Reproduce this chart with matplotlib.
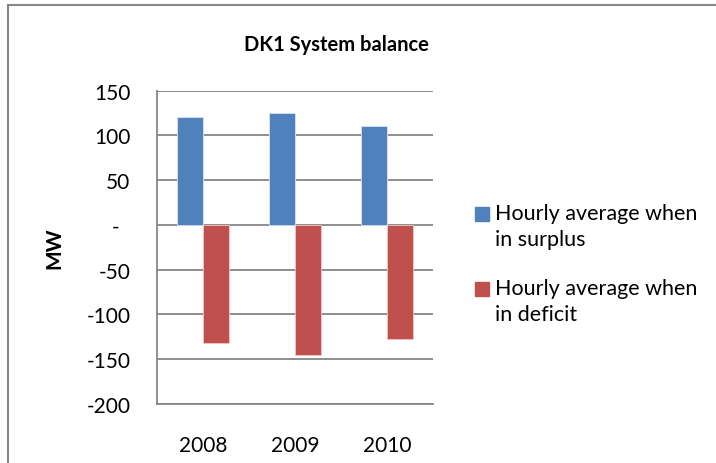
import numpy as np
import matplotlib.pyplot as plt
from matplotlib.lines import Line2D
from matplotlib.patches import Rectangle
from matplotlib.ticker import FixedLocator, FuncFormatter

plt.rcParams['font.family'] = ['Lato', 'DejaVu Sans']

# data
years = ['2008', '2009', '2010']
surplus = [121, 125, 110]
deficit = [-132, -145, -127]
yticks = [150, 100, 50, 0, -50, -100, -150, -200]
series_names = ['Hourly average when\nin surplus', 'Hourly average when\nin deficit']

blue = '#4F81BD'
red = '#C0504D'
grid_col = '#868686'

fig = plt.figure(figsize=(7.16, 4.64), dpi=100)
ax = fig.add_axes([0.2188, 0.1272, 0.3864, 0.6752])

x = np.arange(len(years))
w = 0.28
ax.bar(x - w / 2, surplus, width=w, color=blue, edgecolor='#dbe5f1', linewidth=0.6, zorder=3)
ax.bar(x + w / 2, deficit, width=w, color=red, edgecolor='#f0c8c7', linewidth=0.6, zorder=3)

ax.set_xlim(-0.5, 2.5)
ax.set_ylim(-200, 150)
ax.yaxis.set_major_locator(FixedLocator(yticks))
ax.yaxis.set_major_formatter(FuncFormatter(lambda v, p: '-  ' if v == 0 else f'{v:.0f}'))
ax.set_xticks(x)
ax.set_xticklabels(years)

ax.grid(axis='y', color=grid_col, linewidth=1.3, zorder=0)
for s in ['top', 'right']:
    ax.spines[s].set_visible(False)
for s in ['left', 'bottom']:
    ax.spines[s].set_color(grid_col)
    ax.spines[s].set_linewidth(1.3)

ax.tick_params(axis='y', length=0, pad=19, labelsize=15)
ax.tick_params(axis='x', length=0, pad=22, labelsize=15)

ax.set_ylabel('MW', fontsize=15, fontweight='bold', labelpad=16)

fig.text(0.47, 0.903, 'DK1 System balance', ha='center', va='center',
         fontsize=14.5, fontweight='bold')

# legend: square aligned with the first text line of each entry
W, H = 716, 464
for name, col, y0 in zip(series_names, [blue, red], [215, 290]):
    fig.add_artist(Rectangle((475 / W, 1 - (y0 + 7) / H), 14 / W, 14 / H,
                             color=col, transform=fig.transFigure))
    fig.text(495 / W, 1 - (y0 - 11) / H, name, ha='left', va='top',
             fontsize=15.5, linespacing=1.4)

# chart area border (left and top edges)
fig.add_artist(Line2D([0.011, 0.011], [0.0, 0.986], color=grid_col, linewidth=1.5,
                      transform=fig.transFigure))
fig.add_artist(Line2D([0.011, 1.0], [0.986, 0.986], color=grid_col, linewidth=1.5,
                      transform=fig.transFigure))

plt.savefig('out.png', dpi=100)
